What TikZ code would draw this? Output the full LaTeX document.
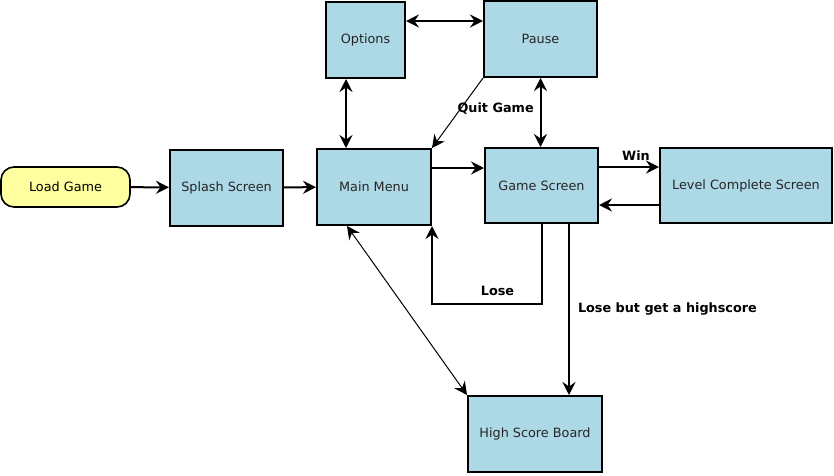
\documentclass[tikz,border=0pt]{standalone}
\usepackage{fontspec}
\setmainfont{DejaVu Sans}
\usepackage{xcolor}
\usepackage{tikz}
\usetikzlibrary{arrows.meta,positioning}

\definecolor{boxblue}{RGB}{173,216,230}
\definecolor{startyellow}{RGB}{255,255,160}
\tikzset{
    screen/.style={draw, line width=2pt, fill=boxblue, minimum width=#1, minimum height=76pt,
        inner sep=0pt, font=\fontsize{12.8}{15}\selectfont, text=black!85},
    screen/.default=113pt,
    start/.style={draw, line width=1.6pt, fill=startyellow, rounded corners=13pt,
        minimum width=129pt, minimum height=40pt, inner sep=0pt, font=\fontsize{12.8}{15}\selectfont},
    tip/.tip={Stealth[length=13pt,width=13pt,inset=4.5pt]},
    arr/.style={line width=2pt, -tip},
    dbl/.style={line width=2pt, tip-tip},
    thinarr/.style={line width=1pt, -tip},
    thindbl/.style={line width=1pt, tip-tip},
    lbl/.style={font=\bfseries\fontsize{12.8}{15}\selectfont, inner sep=0pt}
}

\begin{document}
\begin{tikzpicture}[x=1pt,y=-1pt]

        \useasboundingbox (0,0) rectangle (834,475);

        \node[start] (load) at (65.5,187) {Load Game};
        \node[screen] (splash) at (226.5,187.5) {Splash Screen};
        \node[screen=114pt] (menu) at (374,187) {Main Menu};
        \node[screen=79pt] (options) at (365.5,40) {Options};
        \node[screen] (pause) at (540.5,39) {Pause};
        \node[screen, minimum height=75pt] (game) at (541.5,185.5) {Game Screen};
        \node[screen=172pt, minimum height=75pt] (level) at (746,185.5) {Level Complete Screen};
        \node[screen=134pt] (hsb) at (535,434) {High Score Board};

        \coordinate (om) at ([xshift=-19.5pt]options.south);
        \coordinate (op) at ([yshift=19pt]options.east);
        \coordinate (mg) at ([yshift=19pt]menu.east);
        \coordinate (gw) at ([yshift=18.5pt]game.east);
        \coordinate (lg) at ([yshift=-19.5pt]level.west);
        \coordinate (gh) at ([xshift=27.5pt]game.south);
        \coordinate (mh) at ([xshift=-27pt]menu.south);

        \draw[arr] (load) -- (splash);
        \draw[arr] (splash) -- (menu);
        \draw[arr] (mg) -- (mg -| game.west);
        \draw[dbl] (om) -- (om |- menu.north);
        \draw[dbl] (op) -- (op -| pause.west);
        \draw[dbl] (pause.south) -- (pause.south |- game.north);
        \draw[thinarr] (pause.south west) -- (menu.north east)
            node[lbl, pos=0.43, anchor=west, xshift=-4pt] {Quit Game};
        \draw[arr] (gw) -- (gw -| level.west) node[lbl, midway, above=6pt, xshift=7pt] {Win};
        \draw[arr] (lg) -- (lg -| game.east);
        \draw[arr] (game.south) -- ++(0,80) node[lbl, above=7pt, xshift=-44pt] {Lose} -| (menu.south east);
        \draw[arr] (gh) -- (gh |- hsb.north) node[lbl, pos=0.5, anchor=west, xshift=8pt] {Lose but get a highscore};
        \draw[thindbl] (mh) -- (hsb.north west);

\end{tikzpicture}
\end{document}
